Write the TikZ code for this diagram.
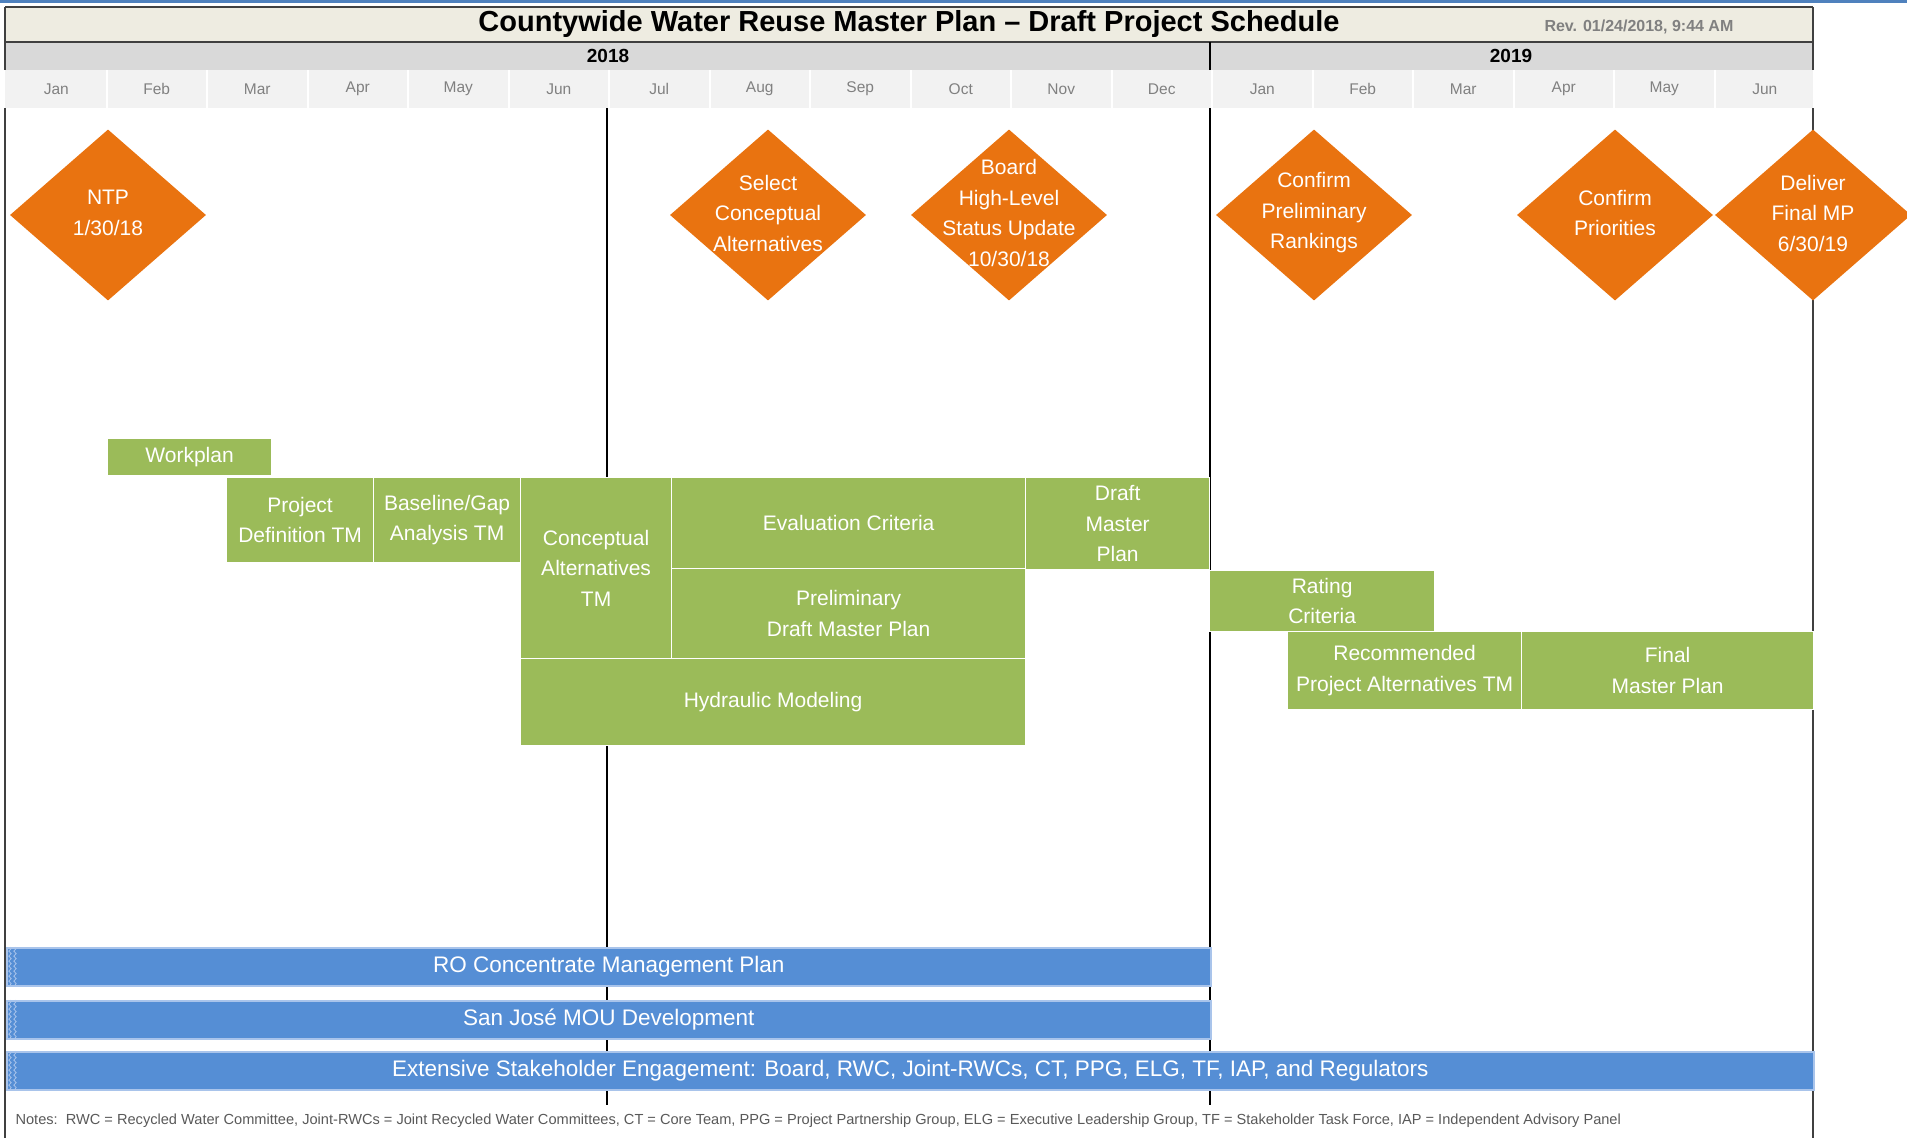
\documentclass[tikz,border=0pt]{standalone}
\usepackage{fontspec}
\setmainfont{Liberation Sans}
\usetikzlibrary{shapes.geometric,decorations.pathmorphing}
\definecolor{msorange}{HTML}{E97310}
\definecolor{taskgreen}{HTML}{9BBB59}
\definecolor{barblue}{HTML}{558ED5}
\definecolor{baredge}{HTML}{A9C4EB}
\definecolor{titletan}{HTML}{EEECE1}
\definecolor{yeargray}{HTML}{D9D9D9}
\definecolor{monthgray}{HTML}{F2F2F2}
\definecolor{monthtext}{HTML}{808080}
\definecolor{notegray}{HTML}{595959}
\definecolor{topblue}{HTML}{4F81BD}
\definecolor{framegray}{HTML}{404040}
\tikzset{
  milestone/.style={diamond, fill=msorange, inner sep=0pt, minimum width=196, minimum height=171},
  mstext/.style={text=white, align=center, inner sep=0pt, font=\fontsize{21}{30.5}\selectfont},
  task/.style={anchor=north west, fill=taskgreen, draw=white, line width=1.2, text=white,
    align=center, inner sep=0pt, font=\fontsize{21}{30.5}\selectfont},
  bar/.style={anchor=north west, fill=barblue, draw=baredge, line width=1.5, text=white,
    inner sep=0pt, minimum height=38, font=\fontsize{22.5}{27}\selectfont},
  squig/.style={draw=baredge, line width=0.8, decorate, decoration={snake, amplitude=1.2, segment length=5}},
  month/.style={text=monthtext, font=\fontsize{15.5}{18}\selectfont},
  year/.style={font=\bfseries\fontsize{19}{22}\selectfont},
  frame/.style={draw=framegray, line width=1.5},
}
\begin{document}
\begin{tikzpicture}[x=1pt,y=-1pt]
	\useasboundingbox (0,0) rectangle (1907,1138);
	\fill[topblue] (0,0) rectangle (1907,3);

	\fill[titletan] (5,7) rectangle (1813,42); \fill[yeargray] (5,42) rectangle (1813,70);
	\fill[monthgray] (5,70) rectangle (1813,108);
	\foreach \i in {1,...,17} \draw[white, line width=2] ({6+\i*100.5},70) -- ({6+\i*100.5},108);

	\draw[frame] (5,7) -- (5,70); \draw[frame] (5,108) -- (5,1138);
	\draw[frame] (1813,7) -- (1813,70); \draw[frame] (1813,108) -- (1813,1138);
	\draw[frame, line width=2] (5,7) -- (1813,7); \draw[frame, line width=2] (5,42) -- (1813,42);
	\draw[black, line width=2.5] (1210,42) -- (1210,70); \draw[black, line width=2.5] (1210,108) -- (1210,1105);
	\draw[black, line width=1.5] (607,108) -- (607,1105);

	\node[font=\bfseries\fontsize{29}{34}\selectfont] (title) at (909,24) {Countywide Water Reuse Master Plan – Draft Project Schedule};
	\node[anchor=west, text=monthtext, font=\bfseries\fontsize{16}{18}\selectfont] (rev) at (1541,27) {Rev. 01/24/2018, 9:44 AM};
	\node[year] (y2018) at (608,56) {2018}; \node[year] (y2019) at (1511,56) {2019};
	\foreach \m [count=\i from 0] in {Jan,Feb,Mar,Apr,May,Jun,Jul,Aug,Sep,Oct,Nov,Dec,Jan,Feb,Mar,Apr,May,Jun}
		\node[month] (mon\i) at ({6+(\i+0.5)*100.5},89) {\m};

	\node[milestone] (ntp) at (108,215) {}; \node[mstext] (ntp-t) at ([yshift=2]ntp.center) {NTP\\1/30/18};
	\node[milestone] (selconc) at (768,215) {}; \node[mstext] (selconc-t) at ([yshift=2]selconc.center) {Select\\Conceptual\\Alternatives};
	\node[milestone] (board) at (1009,215) {}; \node[mstext] (board-t) at ([yshift=2]board.center) {Board\\High-Level\\Status Update\\10/30/18};
	\node[milestone] (confprelim) at (1314,215) {}; \node[mstext] (confprelim-t) at ([yshift=2]confprelim.center) {Confirm\\Preliminary\\Rankings};
	\node[milestone] (confprior) at (1615,215) {}; \node[mstext] (confprior-t) at ([yshift=2]confprior.center) {Confirm\\Priorities};
	\node[milestone] (delivermp) at (1813,215) {}; \node[mstext] (delivermp-t) at ([yshift=2]delivermp.center) {Deliver\\Final MP\\6/30/19};

	\node[task, minimum width=164, minimum height=37] (workplan) at (107,438) {Workplan};
	\node[task, minimum width=147, minimum height=85] (projdef) at (226,477) {Project\\Definition TM};
	\node[task, minimum width=147, minimum height=85] (baseline) at (373,477) {Baseline/Gap\\Analysis TM};
	\node[task, minimum width=151, minimum height=181] (concalt) at (520,477) {Conceptual\\Alternatives\\TM};
	\node[task, minimum width=354, minimum height=91] (evalcrit) at (671,477) {Evaluation Criteria};
	\node[task, minimum width=354, minimum height=90] (prelim) at (671,568) {Preliminary\\Draft Master Plan};
	\node[task, minimum width=505, minimum height=87] (hydraulic) at (520,658) {Hydraulic Modeling};
	\node[task, minimum width=184, minimum height=92] (draftmp) at (1025,477) {Draft\\Master\\Plan};
	\node[task, minimum width=225, minimum height=61] (rating) at (1209,570) {Rating\\Criteria};
	\node[task, minimum width=234, minimum height=78] (recproj) at (1287,631) {Recommended\\Project Alternatives TM};
	\node[task, minimum width=292, minimum height=78] (finalmp) at (1521,631) {Final\\Master Plan};

	\node[bar, minimum width=1204] (romp) at (6,947) {RO Concentrate Management Plan};
	\node[bar, minimum width=1204] (sjmou) at (6,1000) {San José MOU Development};
	\node[bar, minimum width=1807] (stake) at (6,1051) {Extensive Stakeholder Engagement: Board, RWC, Joint-RWCs, CT, PPG, ELG, TF, IAP, and Regulators};
	\foreach \b in {romp,sjmou,stake} {
		\draw[squig] ([xshift=4]\b.north west) -- ([xshift=4]\b.south west);
		\draw[squig] ([xshift=9]\b.north west) -- ([xshift=9]\b.south west);
	}

	\node[anchor=west, text=notegray, font=\fontsize{14.6}{17}\selectfont] (notes) at (12,1121) {Notes:\ \ RWC = Recycled Water Committee, Joint-RWCs = Joint Recycled Water Committees, CT = Core Team, PPG = Project Partnership Group, ELG = Executive Leadership Group, TF = Stakeholder Task Force, IAP = Independent Advisory Panel};
\end{tikzpicture}
\end{document}
